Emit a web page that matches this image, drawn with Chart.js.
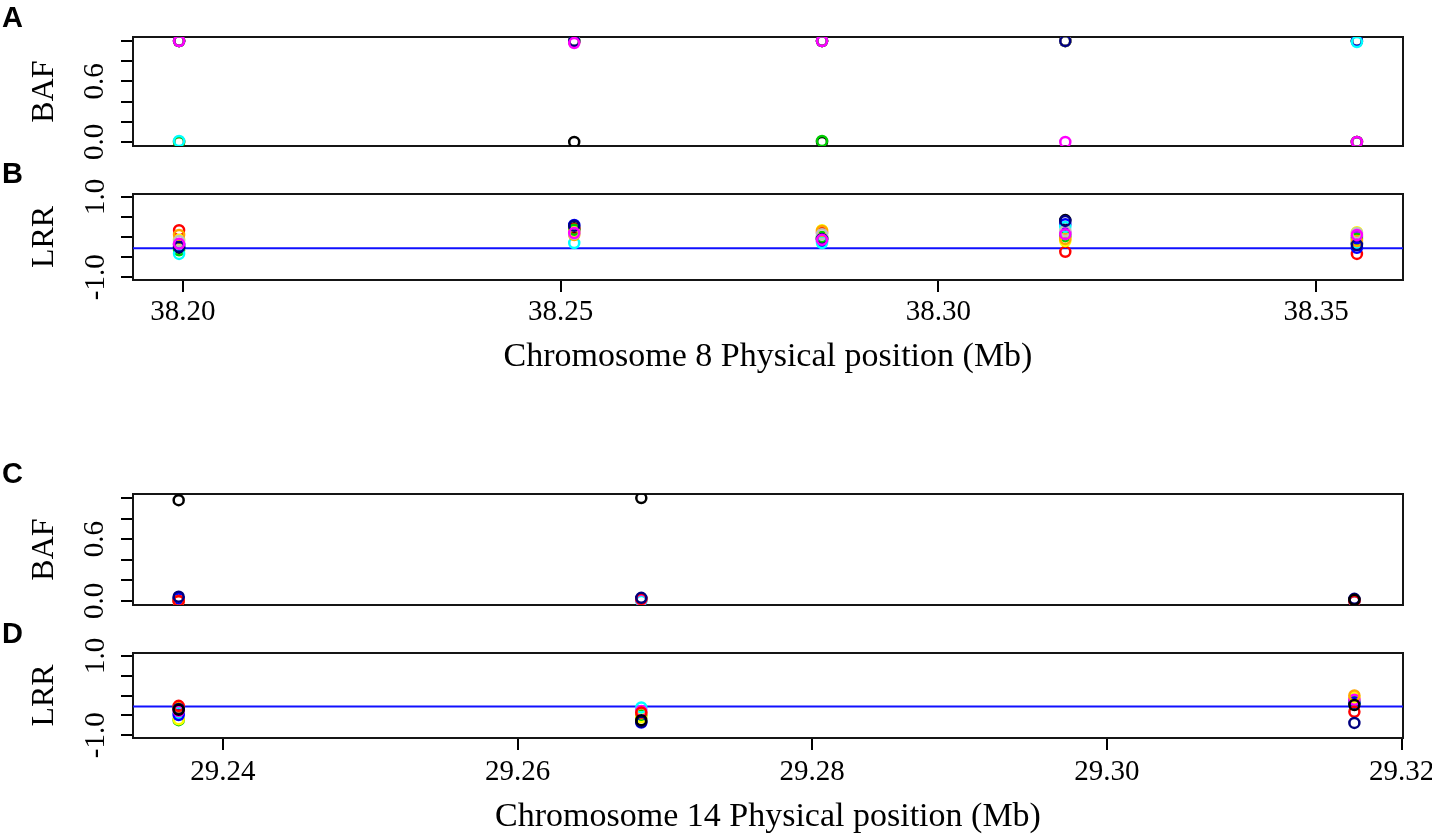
<!DOCTYPE html>
<html>
<head>
<meta charset="utf-8">
<script src="https://cdn.jsdelivr.net/npm/chart.js@4.4.0/dist/chart.umd.min.js"></script>
<style>
  body { margin: 0; background: #fff; }
  #wrap { position: relative; width: 1432px; height: 839px; overflow: hidden; background: #fff; }
  canvas { position: absolute; left: 0; }
  .tag { position: absolute; left: 2px; font: bold 29px "Liberation Sans", Arial, sans-serif; line-height: 29px; color: #000; }
</style>
</head>
<body>
<div id="wrap">
  <canvas id="chartA" width="1432" height="170" style="top:0px"></canvas>
  <canvas id="chartB" width="1432" height="230" style="top:170px"></canvas>
  <canvas id="chartC" width="1432" height="190" style="top:440px"></canvas>
  <canvas id="chartD" width="1432" height="209" style="top:630px"></canvas>
  <div class="tag" style="top:3px">A</div>
  <div class="tag" style="top:159px">B</div>
  <div class="tag" style="top:459px">C</div>
  <div class="tag" style="top:619px">D</div>
</div>
<script>
// ---- chromosome 8 ----
const chr8Pos = [38.1995, 38.2518, 38.2846, 38.3168, 38.3554];
const chr8Range = [38.1934, 38.3615];
const chr8Ticks = [38.20, 38.25, 38.30, 38.35];
const chr8TickLabels = ['38.20', '38.25', '38.30', '38.35'];
// purple, black, red, green3, blue, cyan, yellow, orange, gray, navy, magenta
const chr8Colors = ['#A020F0', '#000000', '#FF0000', '#00CD00', '#0000FF', '#00FFFF',
                    '#FFFF00', '#FFA500', '#BEBEBE', '#000080', '#FF00FF'];
const chr8Baf = [
  [1.00, 1.00, 1.00, 1.00, 1.00],
  [1.00, 0.00, 0.00, 1.00, 0.00],
  [0.00, 0.99, 1.00, 1.00, 1.00],
  [0.00, 1.00, 0.01, 1.00, 1.00],
  [1.00, 1.00, 1.00, 1.00, 1.00],
  [0.01, 1.00, 1.00, 1.00, 0.99],
  [1.00, 1.00, 1.00, 1.00, 0.00],
  [1.00, 1.00, 1.00, 1.00, 0.00],
  [1.00, 1.00, 1.00, 1.00, 0.00],
  [1.00, 1.00, 1.00, 1.00, 0.00],
  [1.00, 0.98, 1.00, 0.00, 0.00]
];
const chr8Lrr = [
  [-0.20, 0.15, -0.05, 0.10, 0.00],
  [-0.27, 0.22, -0.05, 0.42, -0.17],
  [0.17, 0.20, 0.10, -0.37, -0.42],
  [-0.33, 0.18, 0.00, 0.02, -0.05],
  [-0.20, 0.30, -0.10, 0.32, -0.27],
  [-0.42, -0.15, -0.15, 0.25, -0.15],
  [-0.07, 0.12, 0.17, -0.10, 0.12],
  [0.05, 0.05, 0.15, -0.05, -0.10],
  [-0.10, 0.08, 0.07, 0.15, 0.10],
  [-0.25, 0.28, -0.05, 0.40, -0.20],
  [-0.17, 0.10, -0.07, 0.07, 0.05]
];

// ---- chromosome 14 ----
const chr14Pos = [29.2370, 29.2684, 29.3168];
const chr14Range = [29.2339, 29.3201];
const chr14Ticks = [29.24, 29.26, 29.28, 29.30, 29.32];
const chr14TickLabels = ['29.24', '29.26', '29.28', '29.30', '29.32'];
// green3, yellow, cyan, blue, magenta, orange, red, navy, black
const chr14Colors = ['#00CD00', '#FFFF00', '#00FFFF', '#0000FF', '#FF00FF',
                     '#FFA500', '#FF0000', '#000080', '#000000'];
const chr14Baf = [
  [0.01, 0.01, 0.00],
  [0.00, 0.01, 0.01],
  [0.01, 0.00, 0.00],
  [0.02, 0.02, 0.01],
  [0.00, 0.01, 0.00],
  [0.00, 0.02, 0.01],
  [0.00, 0.02, 0.00],
  [0.04, 0.03, 0.02],
  [0.98, 1.00, 0.01]
];
const chr14Lrr = [
  [-0.62, -0.50, -0.15],
  [-0.60, -0.55, -0.05],
  [-0.45, -0.30, -0.20],
  [-0.49, -0.68, -0.18],
  [-0.39, -0.39, -0.11],
  [-0.30, -0.45, 0.00],
  [-0.26, -0.43, -0.41],
  [-0.34, -0.66, -0.69],
  [-0.36, -0.62, -0.24]
];

// ---- y axes ----
const bafRange = [-0.04, 1.04];
const bafTicks = [0, 0.2, 0.4, 0.6, 0.8, 1.0];
const bafTickLabels = ['0.0', '', '', '0.6', '', ''];
const lrrRange = [-1.07, 1.07];
const lrrTicks = [-1.0, -0.5, 0, 0.5, 1.0];
const lrrTickLabels = ['-1.0', '', '', '', '1.0'];
const lrrRef = -0.28;

const serif = '"Liberation Serif", "Times New Roman", serif';
const ink = '#000';
const boxLine = { display: true, color: '#151515', width: 2 };

function panel(id, p) {
  const n = p.colors.length;
  const datasets = p.values.map((row, i) => ({
    data: p.positions.map((x, j) => ({ x: x, y: row[j] })),
    borderColor: p.colors[i],
    backgroundColor: 'rgba(0,0,0,0)',
    pointRadius: 5,
    pointBorderWidth: 2.5,
    order: n - i
  }));
  if (p.ref !== undefined) {
    datasets.push({
      data: [{ x: p.xRange[0], y: p.ref }, { x: p.xRange[1], y: p.ref }],
      showLine: true,
      borderColor: '#1010ff',
      borderWidth: 2,
      pointRadius: 0,
      order: n + 1
    });
  }

  return new Chart(document.getElementById(id), {
    type: 'scatter',
    data: { datasets: datasets },
    options: {
      responsive: false,
      animation: false,
      events: [],
      devicePixelRatio: 1,
      layout: { padding: p.pad },
      plugins: { legend: { display: false }, tooltip: { enabled: false } },
      scales: {
        x: {
          type: 'linear',
          position: 'bottom',
          min: p.xRange[0],
          max: p.xRange[1],
          afterBuildTicks: s => { s.ticks = p.xTicks.map(v => ({ value: v })); },
          ticks: {
            display: p.showX,
            autoSkip: false,
            maxRotation: 0,
            padding: p.xTickPad || 0,
            color: ink,
            font: { family: serif, size: 29 },
            callback: (v, i) => p.xTickLabels[i]
          },
          grid: { display: p.showX, drawOnChartArea: false, drawTicks: true, tickLength: 12, color: ink, lineWidth: 2 },
          border: boxLine,
          title: {
            display: p.showX,
            text: p.xTitle || '',
            color: ink,
            font: { family: serif, size: 34 },
            padding: { top: 0, bottom: p.xTitlePad || 0 }
          },
          afterFit: s => { s.height = p.xHeight; s.paddingLeft = 0; s.paddingRight = 0; }
        },
        x2: {
          type: 'linear',
          position: 'top',
          ticks: { display: false },
          grid: { display: false },
          border: boxLine,
          afterFit: s => { s.height = 0; s.paddingLeft = 0; s.paddingRight = 0; }
        },
        y: {
          type: 'linear',
          position: 'left',
          min: p.yRange[0],
          max: p.yRange[1],
          afterBuildTicks: s => { s.ticks = p.yTicks.map(v => ({ value: v })); },
          ticks: {
            autoSkip: false,
            minRotation: 90,
            maxRotation: 90,
            crossAlign: 'center',
            padding: p.yTickPad,
            color: ink,
            font: { family: serif, size: 29 },
            callback: (v, i) => p.yTickLabels[i]
          },
          grid: { drawOnChartArea: false, drawTicks: true, tickLength: 12, color: ink, lineWidth: 2 },
          border: boxLine,
          title: {
            display: true,
            text: p.yTitle,
            color: ink,
            font: { family: serif, size: 32 },
            padding: { top: 25, bottom: 0 }
          },
          afterFit: s => { s.width = 133; s.paddingTop = 0; s.paddingBottom = 0; }
        },
        y2: {
          type: 'linear',
          position: 'right',
          ticks: { display: false },
          grid: { display: false },
          border: boxLine,
          afterFit: s => { s.width = 0; s.paddingTop = 0; s.paddingBottom = 0; }
        }
      }
    }
  });
}

panel('chartA', {
  positions: chr8Pos, colors: chr8Colors, values: chr8Baf,
  xRange: chr8Range, xTicks: chr8Ticks, xTickLabels: chr8TickLabels, showX: false, xHeight: 0,
  yRange: bafRange, yTicks: bafTicks, yTickLabels: bafTickLabels, yTitle: 'BAF', yTickPad: 7,
  pad: { top: 37, bottom: 24, left: 0, right: 29 }
});

panel('chartB', {
  positions: chr8Pos, colors: chr8Colors, values: chr8Lrr, ref: lrrRef,
  xRange: chr8Range, xTicks: chr8Ticks, xTickLabels: chr8TickLabels, showX: true, xHeight: 120,
  xTitle: 'Chromosome 8 Physical position (Mb)', xTickPad: 3, xTitlePad: 23,
  yRange: lrrRange, yTicks: lrrTicks, yTickLabels: lrrTickLabels, yTitle: 'LRR', yTickPad: 2,
  pad: { top: 24, bottom: 0, left: 0, right: 29 }
});

panel('chartC', {
  positions: chr14Pos, colors: chr14Colors, values: chr14Baf,
  xRange: chr14Range, xTicks: chr14Ticks, xTickLabels: chr14TickLabels, showX: false, xHeight: 0,
  yRange: bafRange, yTicks: bafTicks, yTickLabels: bafTickLabels, yTitle: 'BAF', yTickPad: 7,
  pad: { top: 54, bottom: 25, left: 0, right: 29 }
});

panel('chartD', {
  positions: chr14Pos, colors: chr14Colors, values: chr14Lrr, ref: lrrRef,
  xRange: chr14Range, xTicks: chr14Ticks, xTickLabels: chr14TickLabels, showX: true, xHeight: 101,
  xTitle: 'Chromosome 14 Physical position (Mb)', xTickPad: 5, xTitlePad: 2,
  yRange: lrrRange, yTicks: lrrTicks, yTickLabels: lrrTickLabels, yTitle: 'LRR', yTickPad: 2,
  pad: { top: 23, bottom: 0, left: 0, right: 29 }
});
</script>
</body>
</html>
